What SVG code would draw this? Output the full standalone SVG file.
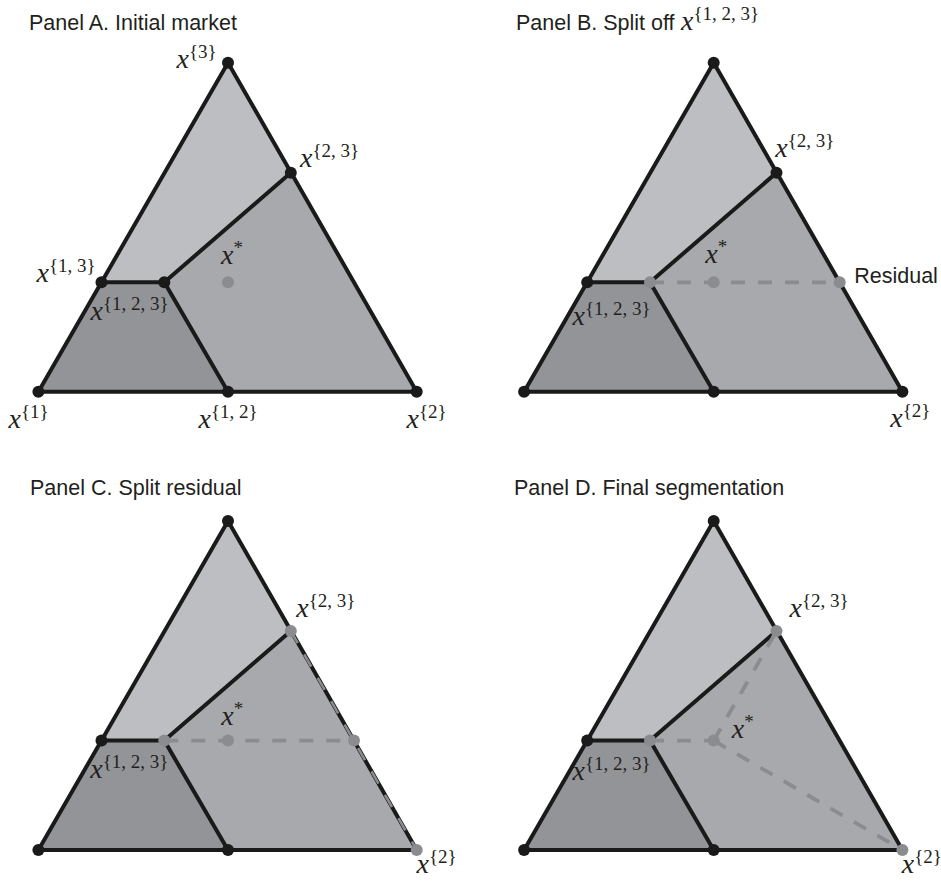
<svg xmlns="http://www.w3.org/2000/svg" xmlns:xlink="http://www.w3.org/1999/xlink" width="941" height="883" viewBox="0 0 941 883">
<style>
  .title{font-family:"Liberation Sans",Arial,sans-serif;font-size:21.5px;fill:#231f20}
  .lab{font-family:"Liberation Serif","Times New Roman",serif;fill:#231f20}
  .mx{font-style:italic;font-size:28px}
  .sup{font-size:19px}
  .light{fill:#bdbec1}
  .mid{fill:#a8a9ac}
  .dark{fill:#939497}
  .edge{stroke:#1a1a1a;stroke-width:4;fill:none;stroke-linejoin:round;stroke-linecap:round}
  .dot{fill:#1a1a1a}
  .gdot{fill:#8b8c8f}
  .dash{stroke:#8b8c8f;stroke-width:3.8;fill:none;stroke-dasharray:14 13}
  .dashthin{stroke:#8b8c8f;stroke-width:2.6;fill:none;stroke-dasharray:14 13}
</style>
<defs>
  <g id="base">
    <polygon class="light" points="228,62.7 290.8,172.7 164.3,282.3 101.5,282.3"/>
    <polygon class="dark" points="38.4,391.7 101.5,282.3 164.3,282.3 228,391.7"/>
    <polygon class="mid" points="164.3,282.3 290.8,172.7 416.7,391.7 228,391.7"/>
    <polygon class="edge" points="228,62.7 416.7,391.7 38.4,391.7"/>
    <polyline class="edge" points="101.5,282.3 164.3,282.3 290.8,172.7"/>
    <line class="edge" x1="164.3" y1="282.3" x2="228" y2="391.7"/>
  </g>
</defs>

<g id="titles">
  <text class="title" x="29" y="30">Panel A. Initial market</text>
  <text class="title" x="516" y="29.5">Panel B. Split off</text>
  <text class="lab" x="681" y="30"><tspan class="mx">x</tspan><tspan class="sup" dy="-10">{1, 2, 3}</tspan></text>
  <text class="title" x="30" y="495">Panel C. Split residual</text>
  <text class="title" x="514" y="494.5">Panel D. Final segmentation</text>
</g>

<!-- Panel A -->
<g id="panel-a">
  <use xlink:href="#base"/>
  <g id="a-connectors"></g>
  <g id="a-x3"><circle class="dot" cx="228" cy="62.7" r="6"/><text class="lab" x="176.5" y="68"><tspan class="mx">x</tspan><tspan class="sup" dy="-10">{3}</tspan></text></g>
  <g id="a-x23"><circle class="dot" cx="290.8" cy="172.7" r="6"/><text class="lab" x="300" y="167"><tspan class="mx">x</tspan><tspan class="sup" dy="-10">{2, 3}</tspan></text></g>
  <g id="a-x13"><circle class="dot" cx="101.5" cy="282.3" r="6"/><text class="lab" x="36.5" y="282"><tspan class="mx">x</tspan><tspan class="sup" dy="-10">{1, 3}</tspan></text></g>
  <g id="a-x123"><circle class="dot" cx="164.3" cy="282.3" r="6"/><text class="lab" x="90.5" y="320"><tspan class="mx">x</tspan><tspan class="sup" dy="-10">{1, 2, 3}</tspan></text></g>
  <g id="a-xstar"><circle class="gdot" cx="228" cy="282.3" r="6"/><text class="lab" x="221" y="263.5"><tspan class="mx">x</tspan><tspan class="sup" dy="-10">*</tspan></text></g>
  <g id="a-x1"><circle class="dot" cx="38.4" cy="391.7" r="6"/><text class="lab" x="8.5" y="428"><tspan class="mx">x</tspan><tspan class="sup" dy="-10">{1}</tspan></text></g>
  <g id="a-x12"><circle class="dot" cx="228" cy="391.7" r="6"/><text class="lab" x="198.5" y="428"><tspan class="mx">x</tspan><tspan class="sup" dy="-10">{1, 2}</tspan></text></g>
  <g id="a-x2"><circle class="dot" cx="416.7" cy="391.7" r="6"/><text class="lab" x="406.5" y="428"><tspan class="mx">x</tspan><tspan class="sup" dy="-10">{2}</tspan></text></g>
</g>

<!-- Panel B -->
<g id="panel-b" transform="translate(485.7,0)">
  <use xlink:href="#base"/>
  <g id="b-connectors"><line class="dash" x1="164.3" y1="282.3" x2="354" y2="282.3"/></g>
  <g id="b-x3"><circle class="dot" cx="228" cy="62.7" r="6"/></g>
  <g id="b-x23"><circle class="dot" cx="290.8" cy="172.7" r="6"/><text class="lab" x="289.5" y="156.7"><tspan class="mx">x</tspan><tspan class="sup" dy="-10">{2, 3}</tspan></text></g>
  <g id="b-x13"><circle class="dot" cx="101.5" cy="282.3" r="6"/></g>
  <g id="b-x123"><circle class="gdot" cx="164.3" cy="282.3" r="6"/><text class="lab" x="86.8" y="325"><tspan class="mx">x</tspan><tspan class="sup" dy="-10">{1, 2, 3}</tspan></text></g>
  <g id="b-xstar"><circle class="gdot" cx="228" cy="282.3" r="6"/><text class="lab" x="219.5" y="263.3"><tspan class="mx">x</tspan><tspan class="sup" dy="-10">*</tspan></text></g>
  <g id="b-residual"><circle class="gdot" cx="354" cy="282.3" r="6"/><text class="title" x="368.5" y="282.7">Residual</text></g>
  <g id="b-x1"><circle class="dot" cx="38.4" cy="391.7" r="6"/></g>
  <g id="b-x12"><circle class="dot" cx="228" cy="391.7" r="6"/></g>
  <g id="b-x2"><circle class="dot" cx="416.7" cy="391.7" r="6"/><text class="lab" x="404.5" y="426.7"><tspan class="mx">x</tspan><tspan class="sup" dy="-10">{2}</tspan></text></g>
</g>

<!-- Panel C -->
<g id="panel-c" transform="translate(0,458.3)">
  <use xlink:href="#base"/>
  <g id="c-connectors">
    <line class="dash" x1="164.3" y1="282.3" x2="354" y2="282.3"/>
    <line class="dashthin" x1="290.8" y1="172.7" x2="416.7" y2="391.7"/>
  </g>
  <g id="c-x3"><circle class="dot" cx="228" cy="62.7" r="6"/></g>
  <g id="c-x23"><circle class="gdot" cx="290.8" cy="172.7" r="6"/><text class="lab" x="296.2" y="158.4"><tspan class="mx">x</tspan><tspan class="sup" dy="-10">{2, 3}</tspan></text></g>
  <g id="c-x13"><circle class="dot" cx="101.5" cy="282.3" r="6"/></g>
  <g id="c-x123"><circle class="gdot" cx="164.3" cy="282.3" r="6"/><text class="lab" x="90.2" y="319.7"><tspan class="mx">x</tspan><tspan class="sup" dy="-10">{1, 2, 3}</tspan></text></g>
  <g id="c-xstar"><circle class="gdot" cx="228" cy="282.3" r="6"/><text class="lab" x="221.2" y="266.7"><tspan class="mx">x</tspan><tspan class="sup" dy="-10">*</tspan></text></g>
  <g id="c-residual"><circle class="gdot" cx="354" cy="282.3" r="6"/></g>
  <g id="c-x1"><circle class="dot" cx="38.4" cy="391.7" r="6"/></g>
  <g id="c-x12"><circle class="dot" cx="228" cy="391.7" r="6"/></g>
  <g id="c-x2"><circle class="gdot" cx="416.7" cy="391.7" r="6"/><text class="lab" x="416.5" y="414.7"><tspan class="mx">x</tspan><tspan class="sup" dy="-10">{2}</tspan></text></g>
</g>

<!-- Panel D -->
<g id="panel-d" transform="translate(485.7,458.3)">
  <use xlink:href="#base"/>
  <g id="d-connectors">
    <line class="dash" x1="164.3" y1="282.3" x2="228" y2="282.3"/>
    <line class="dash" x1="228" y1="282.3" x2="290.8" y2="172.7"/>
    <line class="dash" x1="228" y1="282.3" x2="416.7" y2="391.7"/>
  </g>
  <g id="d-x3"><circle class="dot" cx="228" cy="62.7" r="6"/></g>
  <g id="d-x23"><circle class="gdot" cx="290.8" cy="172.7" r="6"/><text class="lab" x="303.8" y="158.4"><tspan class="mx">x</tspan><tspan class="sup" dy="-10">{2, 3}</tspan></text></g>
  <g id="d-x13"><circle class="dot" cx="101.5" cy="282.3" r="6"/></g>
  <g id="d-x123"><circle class="gdot" cx="164.3" cy="282.3" r="6"/><text class="lab" x="86.8" y="321.7"><tspan class="mx">x</tspan><tspan class="sup" dy="-10">{1, 2, 3}</tspan></text></g>
  <g id="d-xstar"><circle class="gdot" cx="228" cy="282.3" r="6"/><text class="lab" x="246.1" y="280"><tspan class="mx">x</tspan><tspan class="sup" dy="-10">*</tspan></text></g>
  <g id="d-x1"><circle class="dot" cx="38.4" cy="391.7" r="6"/></g>
  <g id="d-x12"><circle class="dot" cx="228" cy="391.7" r="6"/></g>
  <g id="d-x2"><circle class="gdot" cx="416.7" cy="391.7" r="6"/><text class="lab" x="416.1" y="414.7"><tspan class="mx">x</tspan><tspan class="sup" dy="-10">{2}</tspan></text></g>
</g>
</svg>
